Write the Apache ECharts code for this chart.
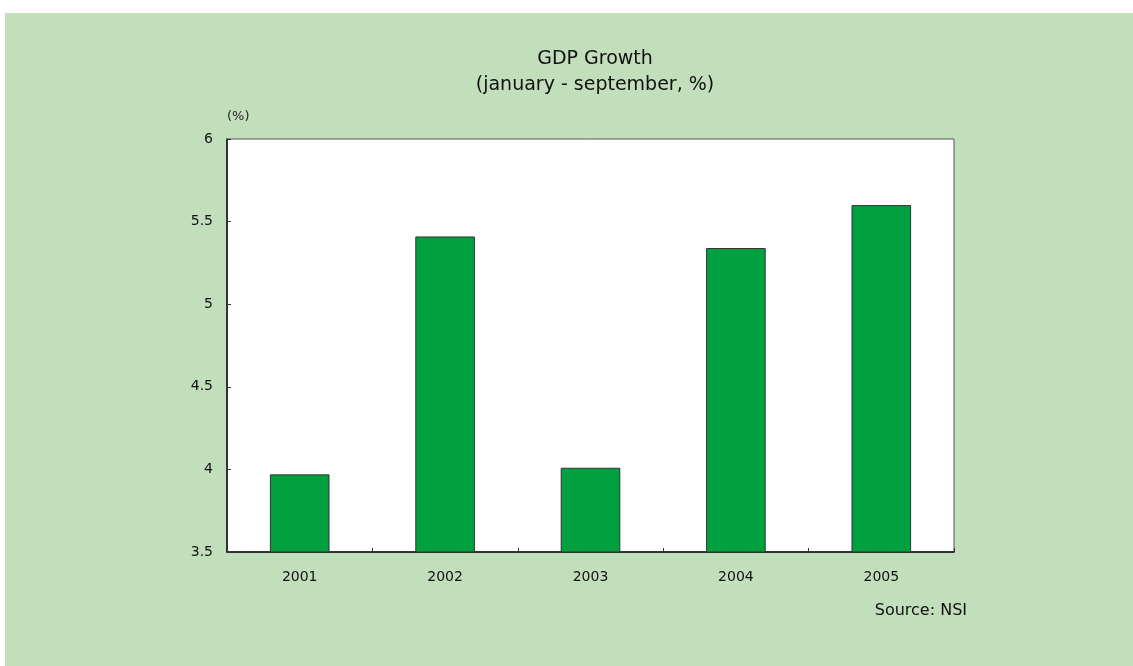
<!DOCTYPE html>
<html>
<head>
<meta charset="utf-8">
<script src="https://cdn.jsdelivr.net/npm/echarts@6/dist/echarts.min.js"></script>
<style>
  html, body { margin: 0; padding: 0; background: #ffffff; }
  #chart { position: absolute; left: 5px; top: 13px; width: 1128px; height: 653px; }
</style>
</head>
<body>
<div id="chart"></div>
<script>
// GDP growth, January-September, per year (%)
const years = ['2001', '2002', '2003', '2004', '2005'];
const growth = [3.97, 5.41, 4.01, 5.34, 5.6];
const yTicks = { min: 3.5, max: 6, step: 0.5 };

const FONT = 'DejaVu Sans';
const chart = echarts.init(document.getElementById('chart'));

chart.setOption({
  backgroundColor: '#c2dfbc',
  animation: false,
  title: {
    text: 'GDP Growth\n(january - september, %)',
    left: 585,
    textAlign: 'center',
    top: 28,
    textStyle: { fontFamily: FONT, fontSize: 19, fontWeight: 'normal', color: '#111', lineHeight: 26 }
  },
  grid: {
    left: 222, top: 126, right: 179, bottom: 114,
    show: true, backgroundColor: '#ffffff', borderColor: '#555', borderWidth: 1
  },
  graphic: [{
    type: 'text',
    right: 166, top: 590,
    style: { text: 'Source: NSI', font: '16px ' + FONT, fill: '#111' }
  }],
  xAxis: {
    type: 'category',
    data: years,
    boundaryGap: true,
    axisLine: { lineStyle: { color: '#111', width: 1.5 } },
    axisTick: { show: true, inside: true, length: 4, lineStyle: { color: '#333' } },
    axisLabel: { fontFamily: FONT, fontSize: 14, color: '#111', margin: 18 }
  },
  yAxis: {
    type: 'value',
    min: yTicks.min, max: yTicks.max, interval: yTicks.step,
    name: '(%)',
    nameLocation: 'end',
    nameGap: 16,
    nameTextStyle: { fontFamily: FONT, fontSize: 13, color: '#222', align: 'left' },
    axisLine: { show: true, lineStyle: { color: '#111', width: 1.5 } },
    axisTick: { show: true, inside: true, length: 4, lineStyle: { color: '#333' } },
    splitLine: { show: false },
    axisLabel: { fontFamily: FONT, fontSize: 14, color: '#111', margin: 14 }
  },
  series: [{
    type: 'bar',
    data: growth,
    barWidth: '41%',
    itemStyle: { color: '#00a03e', borderColor: '#333', borderWidth: 1 }
  }]
});
</script>
</body>
</html>
